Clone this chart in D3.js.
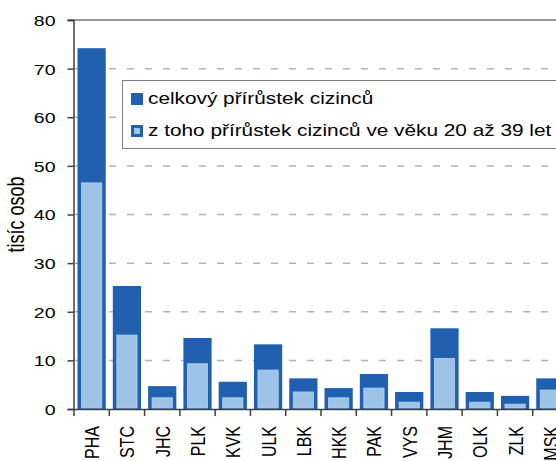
<!DOCTYPE html>
<html>
<head>
<meta charset="utf-8">
<script src="https://cdn.jsdelivr.net/npm/d3@7"></script>
<style>
  html, body { margin: 0; padding: 0; background: #fff; }
  svg { display: block; font-family: 'Liberation Sans', Arial, sans-serif; }
</style>
</head>
<body>
<div id="chart"></div>
<script>
const regions = ['PHA', 'STC', 'JHC', 'PLK', 'KVK', 'ULK', 'LBK', 'HKK', 'PAK', 'VYS', 'JHM', 'OLK', 'ZLK', 'MSK']
const total = [74.2, 25.3, 4.7, 14.6, 5.6, 13.3, 6.3, 4.3, 7.2, 3.5, 16.6, 3.5, 2.7, 6.3]
const young = [46.5, 15.2, 2.3, 9.3, 2.3, 8.0, 3.5, 2.3, 4.3, 1.4, 10.4, 1.4, 1.0, 3.9]
const yTicks = [0, 10, 20, 30, 40, 50, 60, 70, 80]
const legendLabels = ['celkový přírůstek cizinců', 'z toho přírůstek cizinců ve věku 20 až 39 let']

const width = 556
const height = 461
const margin = { left: 74, top: 20, bottom: 52 }
const plotW = 494
const stretch = 1.3
const dark = '#2060ae'
const light = '#9dc3e7'

const svg = d3.select('#chart').append('svg')
  .attr('width', width)
  .attr('height', height)

const x = d3.scaleBand()
  .domain(regions)
  .range([margin.left, margin.left + plotW])
  .paddingInner(0.2)
  .paddingOuter(0.1)

const y = d3.scaleLinear()
  .domain([0, 80])
  .range([height - margin.bottom, margin.top])

// grid
svg.append('g').selectAll('line')
  .data(yTicks.filter(t => t > 0 && t < 80))
  .enter().append('line')
  .attr('x1', margin.left - 1)
  .attr('x2', margin.left + plotW)
  .attr('y1', d => y(d))
  .attr('y2', d => y(d))
  .attr('stroke', '#b3b3b3')
  .attr('stroke-width', 1.5)
  .attr('stroke-dasharray', '7,11')

// top border
svg.append('line')
  .attr('x1', margin.left - 6)
  .attr('x2', margin.left + plotW)
  .attr('y1', y(80))
  .attr('y2', y(80))
  .attr('stroke', '#999')
  .attr('stroke-width', 2)

// bars
const bars = svg.append('g')
bars.selectAll('rect.total')
  .data(regions)
  .enter().append('rect')
  .attr('class', 'total')
  .attr('x', d => x(d))
  .attr('width', x.bandwidth())
  .attr('y', (d, i) => y(total[i]))
  .attr('height', (d, i) => y(0) - y(total[i]))
  .attr('fill', dark)

bars.selectAll('rect.young')
  .data(regions)
  .enter().append('rect')
  .attr('class', 'young')
  .attr('x', d => x(d) + 4)
  .attr('width', x.bandwidth() - 8)
  .attr('y', (d, i) => y(young[i]))
  .attr('height', (d, i) => y(0) - y(young[i]) - 1)
  .attr('fill', light)
  .attr('stroke', '#b5d2ee')
  .attr('stroke-width', 0.8)

// y axis
const yAxis = svg.append('g')
  .attr('transform', 'translate(' + (margin.left - 0.5) + ',0)')
  .call(d3.axisLeft(y).tickValues(yTicks).tickSize(6).tickFormat(d3.format('d')))
yAxis.select('.domain').attr('stroke', '#404040').attr('stroke-width', 1.5)
yAxis.selectAll('.tick line').attr('stroke', '#404040').attr('stroke-width', 1.5)
yAxis.selectAll('.tick text')
  .attr('x', 0)
  .attr('dy', '0.36em')
  .attr('font-size', 15)
  .attr('fill', '#000')
  .attr('font-family', null)
  .attr('transform', 'translate(-18,0) scale(' + stretch + ',1)')

// x axis
const step = x.step()
svg.append('line')
  .attr('x1', margin.left - 1)
  .attr('x2', margin.left + plotW)
  .attr('y1', y(0) + 0.5)
  .attr('y2', y(0) + 0.5)
  .attr('stroke', '#404040')
  .attr('stroke-width', 1.5)

svg.append('g').selectAll('line')
  .data(d3.range(regions.length + 1))
  .enter().append('line')
  .attr('x1', i => margin.left + i * step)
  .attr('x2', i => margin.left + i * step)
  .attr('y1', y(0))
  .attr('y2', y(0) + 7)
  .attr('stroke', '#404040')
  .attr('stroke-width', 1.5)

svg.append('g').selectAll('text')
  .data(regions)
  .enter().append('text')
  .attr('transform', d => 'translate(' + (x(d) + x.bandwidth() / 2) + ',' + (y(0) + 17) + ') scale(' + stretch + ',1) rotate(-90)')
  .attr('text-anchor', 'end')
  .attr('dy', '0.36em')
  .attr('font-size', 16)
  .text(d => d)

// y title
svg.append('text')
  .attr('transform', 'translate(16,' + ((y(0) + y(80)) / 2) + ') scale(' + stretch + ',1) rotate(-90)')
  .attr('text-anchor', 'middle')
  .attr('dy', '0.36em')
  .attr('font-size', 18)
  .text('tisíc osob')

// legend
const legend = svg.append('g')
legend.append('rect')
  .attr('x', 122.5)
  .attr('y', 80.5)
  .attr('width', 460)
  .attr('height', 68)
  .attr('fill', '#fff')
  .attr('stroke', '#7f7f7f')
  .attr('stroke-width', 1)

legendLabels.forEach(function (label, i) {
  const ly = 93 + i * 32
  legend.append('rect')
    .attr('x', 131)
    .attr('y', ly)
    .attr('width', 12)
    .attr('height', 12)
    .attr('fill', dark)
  if (i === 1) {
    legend.append('rect')
      .attr('x', 134)
      .attr('y', ly + 3)
      .attr('width', 6)
      .attr('height', 6)
      .attr('fill', light)
  }
  legend.append('text')
    .attr('transform', 'translate(148,' + (ly + 11) + ') scale(' + stretch + ',1)')
    .attr('font-size', 16)
    .text(label)
})
</script>
</body>
</html>
